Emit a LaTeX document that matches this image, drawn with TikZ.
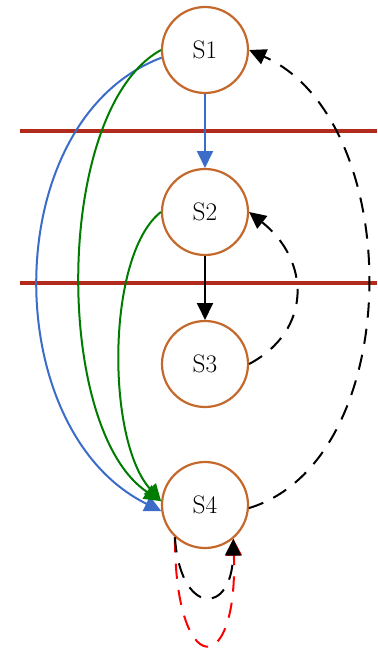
\documentclass[tikz,border=0pt]{standalone}
\usetikzlibrary{arrows.meta}
\definecolor{stateorange}{RGB}{196,104,44}
\definecolor{edgeblue}{RGB}{58,108,200}
\definecolor{edgegreen}{RGB}{0,125,0}
\definecolor{sepred}{RGB}{178,42,28}
\definecolor{loopred}{RGB}{255,0,0}

\begin{document}
\begin{tikzpicture}[x=0.25mm,y=-0.25mm,line width=0.5mm,line cap=butt,line join=miter,
                    font=\fontsize{18pt}{21.6pt}\selectfont,
                    statenode/.style={circle,draw=stateorange,line width=0.55mm,
                                      minimum size=21.5mm,inner sep=0pt},
                    arr/.style={-{Triangle[length=4.2mm,width=4mm]}},
                    dashedge/.style={arr,dash pattern=on 3.8mm off 2.8mm}]
  \path[use as bounding box] (0,0) rectangle (377,649);   % 1 单位 = 源图 1 px
  % ---- 分隔线（两条红色水平线） ----
  \draw[sepred,line width=1.1mm] (20,131) -- (377,131);   % px y=131
  \draw[sepred,line width=1.1mm] (20,283) -- (377,283);   % px y=283
  % ---- 状态结点（圆心 px） ----
  \node[statenode] (s1) at (205,50)  {S1};
  \node[statenode] (s2) at (205,212) {S2};
  \node[statenode] (s3) at (205,364) {S3};
  \node[statenode] (s4) at (205,505) {S4};
  % ---- 直线边 ----
  \draw[arr,edgeblue] (s1.south) -- (s2.north);   % 蓝色 S1→S2
  \draw[arr,black]    (s2.south) -- (s3.north);   % 黑色 S2→S3
  % ---- 左侧曲线边（实线） ----
  \draw[arr,edgeblue]  (s1.190) .. controls (-3,120) and (-3,430) .. (s4.188);    % 最外侧，x≈38 px
  \draw[arr,edgegreen] (s1.180) .. controls (53,110) and (53,430) .. (s4.175);    % x≈80 px
  \draw[arr,edgegreen] (s2.180) .. controls (106,255) and (106,440) .. (s4.175);  % x≈120 px
  % ---- 右侧曲线边（虚线） ----
  \draw[dashedge,black] (s4.356) .. controls (407,460) and (407,120) .. (s1.east);  % x≈368 px
  \draw[dashedge,black] (s3.east) .. controls (313,330) and (310,260) .. (s2.east); % x≈297 px
  % ---- S4 自环（红在下、黑在上） ----
  \draw[dashedge,loopred] (s4.227) .. controls (175,680) and (238,680) .. (s4.310); % 底 y≈645 px
  \draw[dashedge,black]   (s4.227) .. controls (180,616) and (232,616) .. (s4.310); % 底 y≈597 px
\end{tikzpicture}
\end{document}
